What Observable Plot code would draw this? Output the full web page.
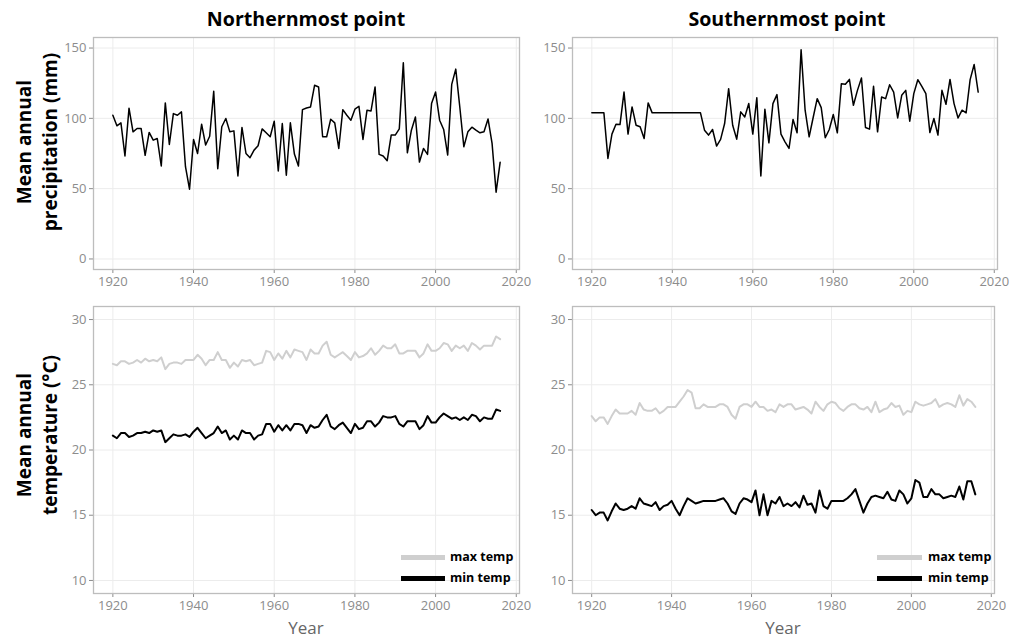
<!DOCTYPE html>
<html>
<head>
<meta charset="utf-8">
<script src="https://cdn.jsdelivr.net/npm/d3@7"></script>
<script src="https://cdn.jsdelivr.net/npm/@observablehq/plot@0.6"></script>
<style>
  html, body { margin: 0; padding: 0; background: #fff; }
  #fig { position: relative; width: 1024px; height: 638px; overflow: hidden; font-family: "Open Sans", sans-serif; }
  .panel { position: absolute; }
  .panel svg { background: transparent !important; }
  .title { position: absolute; font-weight: 700; font-size: 19.6px; line-height: 26px; text-align: center; color: #000; }
  .ylab { position: absolute; width: 240px; height: 52px; font-weight: 700; font-size: 19px; line-height: 26px; text-align: center; transform: rotate(-90deg); color: #000; white-space: nowrap; }
  .xlab { position: absolute; width: 100px; font-size: 17px; line-height: 20px; text-align: center; color: #666; }
  .leg { position: absolute; font-weight: 700; font-size: 12.5px; line-height: 16px; color: #000; white-space: nowrap; }
  .sw { position: absolute; height: 5px; }
</style>
</head>
<body>
<div id="fig"></div>
<script>
const startYear = 1920;
const endYear = 2016;
const years = d3.range(startYear, endYear + 1);

const northPrecip = [
  102.2, 94.7, 96.8, 73.2, 107.2, 90.4, 92.8, 92.8, 73.7, 90.0,
  84.5, 85.7, 66.1, 111.0, 81.4, 103.4, 102.2, 104.6, 65.6, 49.6,
  85.0, 75.0, 95.8, 81.0, 87.3, 119.2, 64.2, 94.0, 99.9, 90.4,
  91.1, 59.0, 93.5, 75.0, 72.0, 77.4, 80.5, 92.5, 89.7, 86.9,
  98.0, 62.6, 96.3, 59.5, 96.8, 74.6, 66.1, 106.2, 107.4, 108.1,
  123.5, 122.3, 86.9, 86.9, 99.4, 96.8, 78.6, 106.2, 102.2, 98.7,
  106.5, 108.6, 85.0, 105.8, 105.3, 122.3, 74.4, 73.2, 69.9, 88.1,
  88.1, 92.5, 139.5, 75.5, 91.6, 101.0, 68.9, 78.6, 74.4, 110.5,
  118.7, 98.7, 92.1, 73.9, 124.2, 135.0, 108.1, 79.8, 90.4, 93.7,
  91.6, 89.7, 90.4, 99.6, 82.2, 47.5, 68.7
];
const southPrecip = [
  103.9, 103.9, 103.9, 103.9, 71.5, 88.8, 95.8, 95.6, 118.7, 88.8,
  108.1, 95.1, 94.0, 85.7, 111.0, 103.9, 103.9, 103.9, 103.9, 103.9,
  103.9, 103.9, 103.9, 103.9, 103.9, 103.9, 103.9, 103.9, 91.6, 88.1,
  92.1, 80.3, 85.0, 96.3, 121.1, 95.1, 85.2, 104.6, 101.0, 110.5,
  88.8, 114.7, 59.0, 106.5, 82.6, 110.5, 116.9, 88.8, 83.3, 78.6,
  99.2, 89.7, 148.7, 105.8, 86.9, 100.6, 114.0, 107.6, 86.2, 92.1,
  102.7, 89.7, 124.6, 124.2, 127.7, 109.3, 119.9, 128.7, 93.5, 92.3,
  122.8, 90.4, 115.2, 114.0, 123.9, 118.7, 100.3, 116.4, 119.9, 98.0,
  117.6, 127.5, 122.8, 117.6, 89.9, 99.9, 88.1, 119.9, 110.0, 127.7,
  110.5, 100.3, 105.8, 103.9, 127.5, 138.3, 118.7
];
const northMax = [
  26.6, 26.5, 26.8, 26.8, 26.6, 26.7, 26.9, 26.7, 27.0, 26.8,
  26.9, 26.8, 27.1, 26.2, 26.6, 26.7, 26.7, 26.6, 26.9, 26.9,
  26.9, 27.3, 27.0, 26.5, 26.9, 26.9, 27.5, 26.9, 26.9, 26.3,
  26.7, 26.4, 26.9, 26.8, 26.9, 26.5, 26.6, 26.7, 27.6, 27.5,
  26.9, 27.4, 27.0, 27.6, 27.1, 27.7, 27.6, 27.5, 26.9, 27.7,
  27.4, 27.4, 28.0, 28.3, 27.3, 27.1, 27.3, 27.5, 27.2, 26.9,
  27.5, 27.1, 27.2, 27.4, 27.8, 27.3, 27.6, 28.0, 27.8, 27.8,
  28.1, 27.4, 27.4, 27.6, 27.6, 27.6, 27.1, 27.4, 28.1, 27.6,
  27.6, 27.8, 28.2, 28.1, 27.6, 28.0, 27.8, 28.0, 27.6, 28.2,
  28.0, 27.7, 28.0, 28.0, 28.0, 28.7, 28.5
];
const northMin = [
  21.1, 20.9, 21.3, 21.3, 21.0, 21.1, 21.3, 21.3, 21.4, 21.3,
  21.5, 21.4, 21.5, 20.6, 20.9, 21.2, 21.1, 21.1, 21.2, 21.0,
  21.4, 21.7, 21.3, 20.9, 21.1, 21.3, 21.8, 21.3, 21.5, 20.8,
  21.1, 20.8, 21.5, 21.3, 21.3, 20.8, 21.1, 21.2, 22.0, 22.0,
  21.4, 21.9, 21.5, 21.9, 21.5, 22.0, 22.0, 21.9, 21.3, 21.9,
  21.7, 21.8, 22.3, 22.7, 21.8, 21.6, 21.9, 22.1, 21.7, 21.3,
  22.0, 21.6, 21.7, 22.2, 22.2, 21.8, 22.1, 22.6, 22.5, 22.5,
  22.6, 22.0, 21.8, 22.2, 22.2, 22.2, 21.6, 21.9, 22.6, 22.1,
  22.1, 22.5, 22.8, 22.6, 22.4, 22.5, 22.3, 22.5, 22.3, 22.7,
  22.6, 22.2, 22.5, 22.4, 22.4, 23.1, 23.0
];
const southMax = [
  22.6, 22.2, 22.5, 22.5, 22.0, 22.6, 23.1, 22.8, 22.8, 22.8,
  23.0, 22.7, 23.6, 23.1, 23.0, 23.0, 23.2, 22.8, 23.0, 23.3,
  23.3, 23.3, 23.7, 24.1, 24.6, 24.4, 23.2, 23.2, 23.5, 23.3,
  23.3, 23.3, 23.5, 23.5, 23.3, 22.7, 22.4, 23.3, 23.5, 23.5,
  23.3, 23.7, 23.3, 23.3, 23.0, 23.1, 22.9, 23.5, 23.3, 23.5,
  23.5, 23.1, 23.2, 23.3, 23.1, 22.8, 23.7, 23.3, 23.0, 23.5,
  23.7, 23.6, 23.2, 23.0, 23.3, 23.5, 23.5, 23.2, 23.1, 23.3,
  22.9, 23.7, 22.9, 23.1, 23.2, 23.6, 23.3, 23.4, 22.7, 23.0,
  22.9, 23.7, 23.5, 23.4, 23.5, 23.6, 23.9, 23.3, 23.5, 23.6,
  23.5, 23.3, 24.2, 23.4, 23.9, 23.7, 23.3
];
const southMin = [
  15.4, 15.0, 15.2, 15.2, 14.6, 15.3, 15.9, 15.5, 15.4, 15.5,
  15.7, 15.5, 16.3, 15.9, 15.8, 15.7, 16.0, 15.4, 15.7, 15.8,
  16.1, 15.5, 15.0, 15.7, 16.3, 16.1, 15.9, 16.0, 16.1, 16.1,
  16.1, 16.1, 16.2, 16.3, 15.9, 15.3, 15.1, 15.9, 16.3, 16.2,
  16.0, 16.9, 15.0, 16.6, 15.0, 16.1, 15.9, 16.4, 15.7, 15.9,
  15.7, 16.0, 15.6, 16.5, 15.8, 15.9, 15.2, 16.9, 15.7, 15.5,
  16.1, 16.1, 16.1, 16.1, 16.3, 16.6, 17.0, 16.1, 15.2, 15.9,
  16.4, 16.5, 16.4, 16.3, 16.8, 16.2, 16.1, 16.9, 16.6, 15.9,
  16.3, 17.7, 17.5, 16.4, 16.4, 17.0, 16.6, 16.6, 16.3, 16.4,
  16.5, 16.4, 17.2, 16.2, 17.6, 17.6, 16.6
];

const xTicks = [1920, 1940, 1960, 1980, 2000, 2020];
const precipTicks = [0, 50, 100, 150];
const tempTicks = [10, 15, 20, 25, 30];
const xDomain = [1915.2, 2020.8];
const precipDomain = [-7.5, 157.5];
const tempDomain = [9, 31];
const panelTitles = ["Northernmost point", "Southernmost point"];
const legendLabels = ["max temp", "min temp"];
const seriesColors = { "max temp": "#cfcfcf", "min temp": "#000000" };

const toRows = (vals, series) => vals.map((v, i) => ({ year: years[i], value: v, series }));

function panel({ rows, yDomain, yTicks, width, height, ml, mr, mt, mb, sw }) {
  return Plot.plot({
    width, height,
    marginLeft: ml, marginRight: mr, marginTop: mt, marginBottom: mb,
    style: { background: "transparent", fontFamily: "Open Sans, sans-serif", fontSize: "13px", color: "#8c8c8c", overflow: "visible" },
    x: { domain: xDomain, ticks: xTicks, tickFormat: "d", label: null, tickSize: 4, tickPadding: 3 },
    y: { domain: yDomain, ticks: yTicks, label: null, tickSize: 4, tickPadding: 3 },
    marks: [
      Plot.gridX(xTicks, { stroke: "#ececec", strokeOpacity: 1, strokeWidth: 1 }),
      Plot.gridY(yTicks, { stroke: "#ececec", strokeOpacity: 1, strokeWidth: 1 }),
      Plot.lineY(rows, { x: "year", y: "value", z: "series", stroke: d => seriesColors[d.series] || "#000", strokeWidth: sw, strokeLinejoin: "round" }),
      Plot.frame({ stroke: "#bdbdbd", strokeWidth: 1.3 })
    ]
  });
}

const fig = document.getElementById("fig");
function place(node, left, top) {
  const d = document.createElement("div");
  d.className = "panel";
  d.style.left = left + "px"; d.style.top = top + "px";
  d.appendChild(node);
  fig.appendChild(d);
}

// Top row: precipitation
place(panel({ rows: toRows(northPrecip, "precip"), yDomain: precipDomain, yTicks: precipTicks,
  width: 540, height: 300, ml: 93, mr: 21, mt: 37, mb: 31, sw: 1.5 }), 0, 0);
place(panel({ rows: toRows(southPrecip, "precip"), yDomain: precipDomain, yTicks: precipTicks,
  width: 484, height: 300, ml: 32, mr: 27, mt: 37, mb: 31, sw: 1.5 }), 540, 0);

// Bottom row: temperature
place(panel({ rows: toRows(northMax, "max temp").concat(toRows(northMin, "min temp")), yDomain: tempDomain, yTicks: tempTicks,
  width: 540, height: 338, ml: 93, mr: 21, mt: 6, mb: 45, sw: 2 }), 0, 300);
place(panel({ rows: toRows(southMax, "max temp").concat(toRows(southMin, "min temp")), yDomain: tempDomain, yTicks: tempTicks,
  width: 484, height: 338, ml: 32, mr: 30, mt: 6, mb: 45, sw: 2 }), 540, 300);

function addDiv(cls, text, css) {
  const d = document.createElement("div");
  d.className = cls;
  d.innerHTML = text;
  Object.assign(d.style, css);
  fig.appendChild(d);
  return d;
}

// Titles
addDiv("title", panelTitles[0], { left: "106px", top: "6px", width: "400px" });
addDiv("title", panelTitles[1], { left: "587px", top: "6px", width: "400px" });

// Y labels (rotated)
addDiv("ylab", "Mean annual<br>precipitation (mm)", { left: (37 - 120) + "px", top: (142 - 26) + "px" });
addDiv("ylab", "Mean annual<br>temperature (°C)", { left: (37 - 120) + "px", top: (435 - 26) + "px" });

// X labels
addDiv("xlab", "Year", { left: (306 - 50) + "px", top: "618px" });
addDiv("xlab", "Year", { left: (783 - 50) + "px", top: "618px" });

// Legends
function legend(x0, x1, tx) {
  legendLabels.forEach((lab, i) => {
    const cy = i === 0 ? 557 : 578;
    const s = document.createElement("div");
    s.className = "sw";
    Object.assign(s.style, { left: x0 + "px", width: (x1 - x0) + "px", top: (cy - 2.5) + "px", background: seriesColors[lab] });
    fig.appendChild(s);
    addDiv("leg", lab, { left: tx + "px", top: (cy - 8) + "px" });
  });
}
legend(401, 445, 450);
legend(877, 922, 928);
</script>
</body>
</html>
